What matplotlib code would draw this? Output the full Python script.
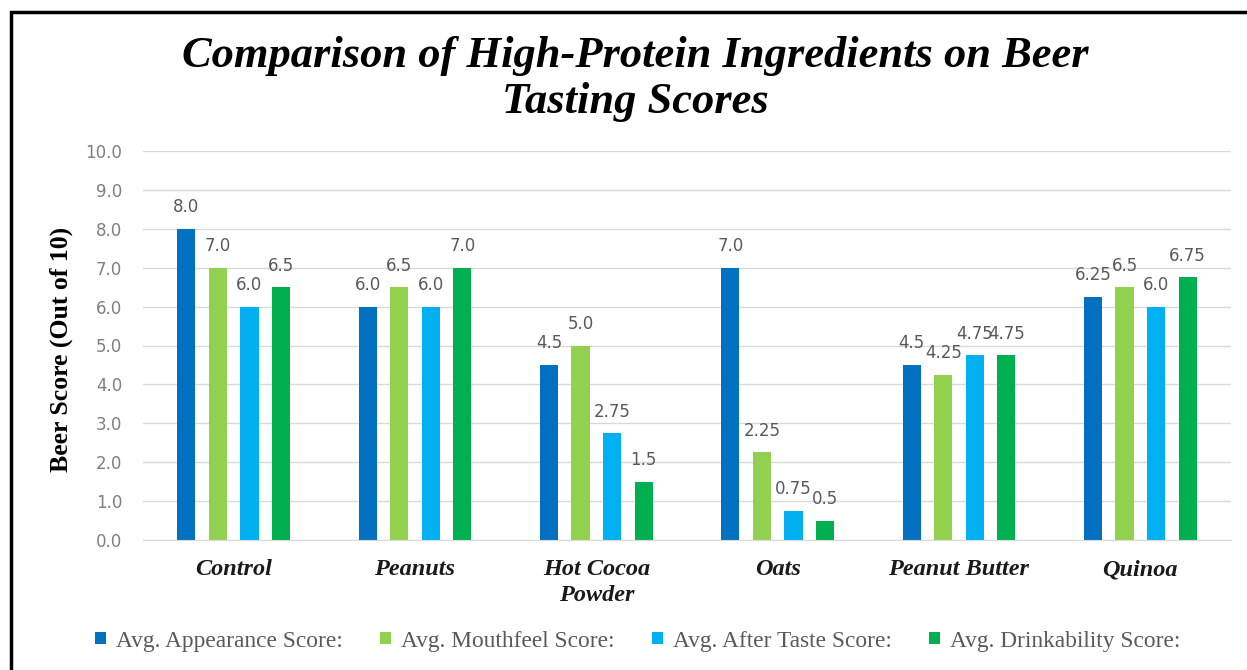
import matplotlib
matplotlib.use("Agg")
import matplotlib.pyplot as plt
import numpy as np
from matplotlib.patches import Rectangle

categories = ["Control", "Peanuts", "Hot Cocoa\nPowder", "Oats", "Peanut Butter", "Quinoa"]
series_names = ["Avg. Appearance Score:", "Avg. Mouthfeel Score:", "Avg. After Taste Score:", "Avg. Drinkability Score:"]
appearance = [8.0, 6.0, 4.5, 7.0, 4.5, 6.25]
mouthfeel = [7.0, 6.5, 5.0, 2.25, 4.25, 6.5]
after_taste = [6.0, 6.0, 2.75, 0.75, 4.75, 6.0]
drinkability = [6.5, 7.0, 1.5, 0.5, 4.75, 6.75]
colors = ["#0070C0", "#92D050", "#00B0F0", "#00B050"]
yticks = [0, 1, 2, 3, 4, 5, 6, 7, 8, 9, 10]

W, H = 1247, 670
fig = plt.figure(figsize=(W / 100, H / 100), dpi=100)
ax = fig.add_axes([143 / W, 1 - 540 / H, (1231 - 143) / W, (540 - 151) / H])

# outer frame (top and left visible)
fig.patches.append(Rectangle((11 / W, -0.05), 1.2, 1 - 12 / H + 0.05, transform=fig.transFigure,
                             fill=False, edgecolor="black", linewidth=2.5, zorder=10))

x = np.arange(len(categories))
pitch = 0.174
width = 0.1
data = [appearance, mouthfeel, after_taste, drinkability]

def fmt(v):
    return f"{v:.1f}" if abs(v * 10 - round(v * 10)) < 1e-9 else f"{v:.2f}"

for i, (vals, name, c) in enumerate(zip(data, series_names, colors)):
    pos = x + (i - 1.5) * pitch
    bars = ax.bar(pos, vals, width, color=c, label=name, zorder=3)
    for b, v in zip(bars, vals):
        ax.annotate(fmt(v), (b.get_x() + b.get_width() / 2, v), xytext=(0, 9),
                    textcoords="offset points", ha="center", va="bottom",
                    fontsize=12, color="#595959", family="DejaVu Sans")

ax.set_xlim(-0.5, len(categories) - 0.5)
ax.set_ylim(0, 10)
ax.set_yticks(yticks)
ax.set_yticklabels([f"{t:.1f}" for t in yticks], fontsize=12, color="#7f7f7f", family="DejaVu Sans")
ax.set_xticks(x)
ax.set_xticklabels(categories, fontsize=17.5, family="Liberation Serif", fontweight="bold",
                   fontstyle="italic", color="#1a1a1a", linespacing=1.3)
ax.tick_params(axis="both", length=0)
ax.tick_params(axis="x", pad=14)
ax.tick_params(axis="y", pad=15)
ax.grid(axis="y", color="#D9D9D9", linewidth=1, zorder=0)
for s in ["top", "right", "left"]:
    ax.spines[s].set_visible(False)
ax.spines["bottom"].set_color("#D9D9D9")
ax.spines["bottom"].set_zorder(4)

ax.set_ylabel("Beer Score (Out of 10)", fontsize=18.5, family="Liberation Serif", fontweight="bold",
              color="black")
ax.yaxis.set_label_coords((73 - 143) / (1231 - 143), 0.49)

fig.text(635 / W, 1 - 79 / H, "Comparison of High-Protein Ingredients on Beer\nTasting Scores",
         ha="center", va="center", fontsize=32, family="Liberation Serif", fontweight="bold",
         fontstyle="italic", linespacing=1.22)

leg = fig.legend(loc="center", bbox_to_anchor=(638 / W, 1 - 641 / H), ncol=4, frameon=False,
                 prop={"family": "Liberation Serif", "size": 16.8}, handlelength=0.45, handleheight=0.45,
                 handletextpad=0.45, columnspacing=1.6)
for t in leg.get_texts():
    t.set_color("#595959")

fig.savefig("out.png", dpi=100)
